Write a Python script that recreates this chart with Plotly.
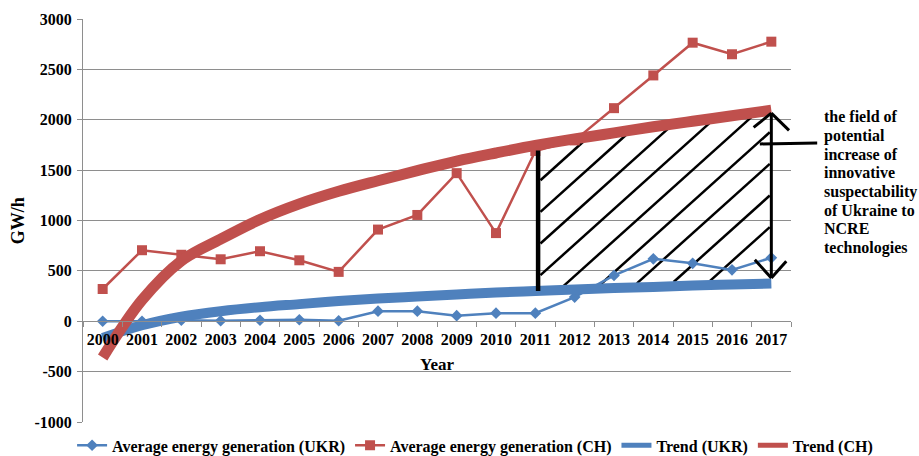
import numpy as np
import plotly.graph_objects as go

# ---- data -------------------------------------------------------------
years = [str(y) for y in range(2000, 2018)]
gen_ukr = [0, 0, 10, 5, 10, 15, 5, 100, 100, 55, 80, 80, 240, 455, 620, 575, 510, 630]
gen_ch = [320, 705, 660, 615, 695, 605, 490, 910, 1055, 1470, 875, 1690, 1795, 2115, 2440, 2765, 2650, 2775]
trend_ukr = [-165, -40, 45, 100, 140, 170, 200, 225, 245, 265, 285, 300, 315, 330, 340, 355, 365, 375]
trend_ch = [-360, 210, 600, 815, 1010, 1165, 1290, 1395, 1495, 1590, 1670, 1745, 1810, 1870, 1930, 1985, 2040, 2095]
y_ticks = list(range(-1000, 3001, 500))
note_lines = ["the field of", "potential", "increase of", "innovative",
              "suspectability", "of Ukraine to", "NCRE", "technologies"]

BLUE = "#4F81BD"
RED = "#C0504D"
GRID = "#8E8E8E"
FONT = "Liberation Serif"

fig = go.Figure()
fig.add_trace(go.Scatter(
    x=years, y=gen_ukr, name="Average energy generation (UKR)", mode="lines+markers",
    line=dict(color=BLUE, width=2.5), marker=dict(symbol="diamond", size=9, color=BLUE)))
fig.add_trace(go.Scatter(
    x=years, y=gen_ch, name="Average energy generation (CH)", mode="lines+markers",
    line=dict(color=RED, width=2.5), marker=dict(symbol="square", size=10, color=RED)))

# trend curves: thick lines on the chart, thinner swatches in the legend
for name, vals, col, w in [("Trend (UKR)", trend_ukr, BLUE, 10), ("Trend (CH)", trend_ch, RED, 11)]:
    fig.add_trace(go.Scatter(
        x=years, y=vals, name=name, mode="lines", legendgroup=name, showlegend=False,
        line=dict(color=col, width=w, shape="spline")))
    fig.add_trace(go.Scatter(
        x=[years[0]], y=[None], name=name, mode="lines", legendgroup=name,
        line=dict(color=col, width=5)))

# ---- hatched field between the two trends (2011 .. 2017) -------------
idx = np.arange(len(years))
x_left, x_right = 11.07, 17.0
slope = 351.0          # hatch rise per category step
spacing = 314.0        # vertical distance between hatch lines
shapes = []
for k in range(9):
    c = 1354.0 - spacing * k
    xs = np.linspace(x_left + 0.06, x_right - 0.04, 800)
    ys = c + slope * (xs - 11)
    lo = np.interp(xs, idx, trend_ukr) + 40
    hi = np.interp(xs, idx, trend_ch) - 40
    ok = (ys >= lo) & (ys <= hi)
    if ok.any():
        i0 = np.argmax(ok)
        i1 = len(ok) - 1 - np.argmax(ok[::-1])
        shapes.append(dict(type="line", xref="x", yref="y", layer="between",
                           x0=xs[i0], y0=ys[i0], x1=xs[i1], y1=ys[i1],
                           line=dict(color="black", width=2.5)))

# left boundary of the field
shapes.append(dict(type="line", xref="x", yref="y", x0=x_left, x1=x_left,
                   y0=trend_ukr[11], y1=trend_ch[11] - 50,
                   line=dict(color="black", width=4.5)))

# double-headed arrow at the end of the period
top = trend_ch[17] - 30
bot = trend_ukr[17] + 55
arrow = [(x_right, top, x_right, bot),
         (x_right, top, x_right - 0.45, top - 140),
         (x_right, top, x_right + 0.45, top - 170),
         (x_right, bot, x_right - 0.42, bot + 180),
         (x_right, bot, x_right + 0.38, bot + 165)]
for x0, y0, x1, y1 in arrow:
    shapes.append(dict(type="line", xref="x", yref="y", x0=x0, y0=y0, x1=x1, y1=y1,
                       line=dict(color="black", width=3)))

# connector from the arrow to the note
shapes.append(dict(type="line", xref="paper", yref="paper",
                   x0=0.956, y0=0.690, x1=1.037, y1=0.692,
                   line=dict(color="black", width=3)))

annotations = []
for i, t in enumerate(note_lines):
    annotations.append(dict(text=t, xref="paper", yref="paper", x=1.044,
                            y=(422.5 - (117 + 18.7 * i)) / 403.5,
                            xanchor="left", yanchor="middle", showarrow=False,
                            font=dict(family=FONT, size=16, color="black", weight="bold")))
annotations.append(dict(text="Year", xref="paper", yref="paper", x=0.5, y=0.1425,
                        xanchor="center", yanchor="middle", showarrow=False,
                        font=dict(family=FONT, size=17, color="black", weight="bold")))
annotations.append(dict(text="GW/h", xref="paper", yref="paper", x=-0.092, y=0.5,
                        xanchor="center", yanchor="middle", showarrow=False, textangle=-90,
                        font=dict(family=FONT, size=18, color="black", weight="bold")))

fig.update_layout(
    width=919, height=456,
    margin=dict(l=83, r=128, t=19, b=34, autoexpand=False),
    paper_bgcolor="white", plot_bgcolor="white",
    font=dict(family=FONT, size=16, color="black", weight="bold"),
    shapes=shapes, annotations=annotations,
    legend=dict(orientation="h", xref="paper", yref="paper",
                x=1.123, xanchor="right", y=-0.058, yanchor="middle",
                font=dict(family=FONT, size=16, color="black", weight="bold"),
                itemwidth=30, bgcolor="rgba(0,0,0,0)"),
    xaxis=dict(type="category", categoryorder="array", categoryarray=years,
               range=[-0.5, 17.5], anchor="free", position=0.25,
               showline=True, linecolor=GRID, linewidth=1,
               ticks="outside", tickson="boundaries", ticklen=5, tickcolor=GRID,
               showgrid=False, tickangle=0, ticklabelstandoff=4,
               tickfont=dict(family=FONT, size=16, color="black", weight="bold")),
    yaxis=dict(range=[-1000, 3000], tickmode="array", tickvals=y_ticks,
               ticktext=[str(v) for v in y_ticks],
               showgrid=True, gridcolor=GRID, gridwidth=1, zeroline=False,
               showline=True, linecolor=GRID, linewidth=1,
               ticks="outside", ticklen=5, tickcolor=GRID, ticklabelstandoff=2,
               tickfont=dict(family=FONT, size=16, color="black", weight="bold")),
)

fig.write_html("out.html")
